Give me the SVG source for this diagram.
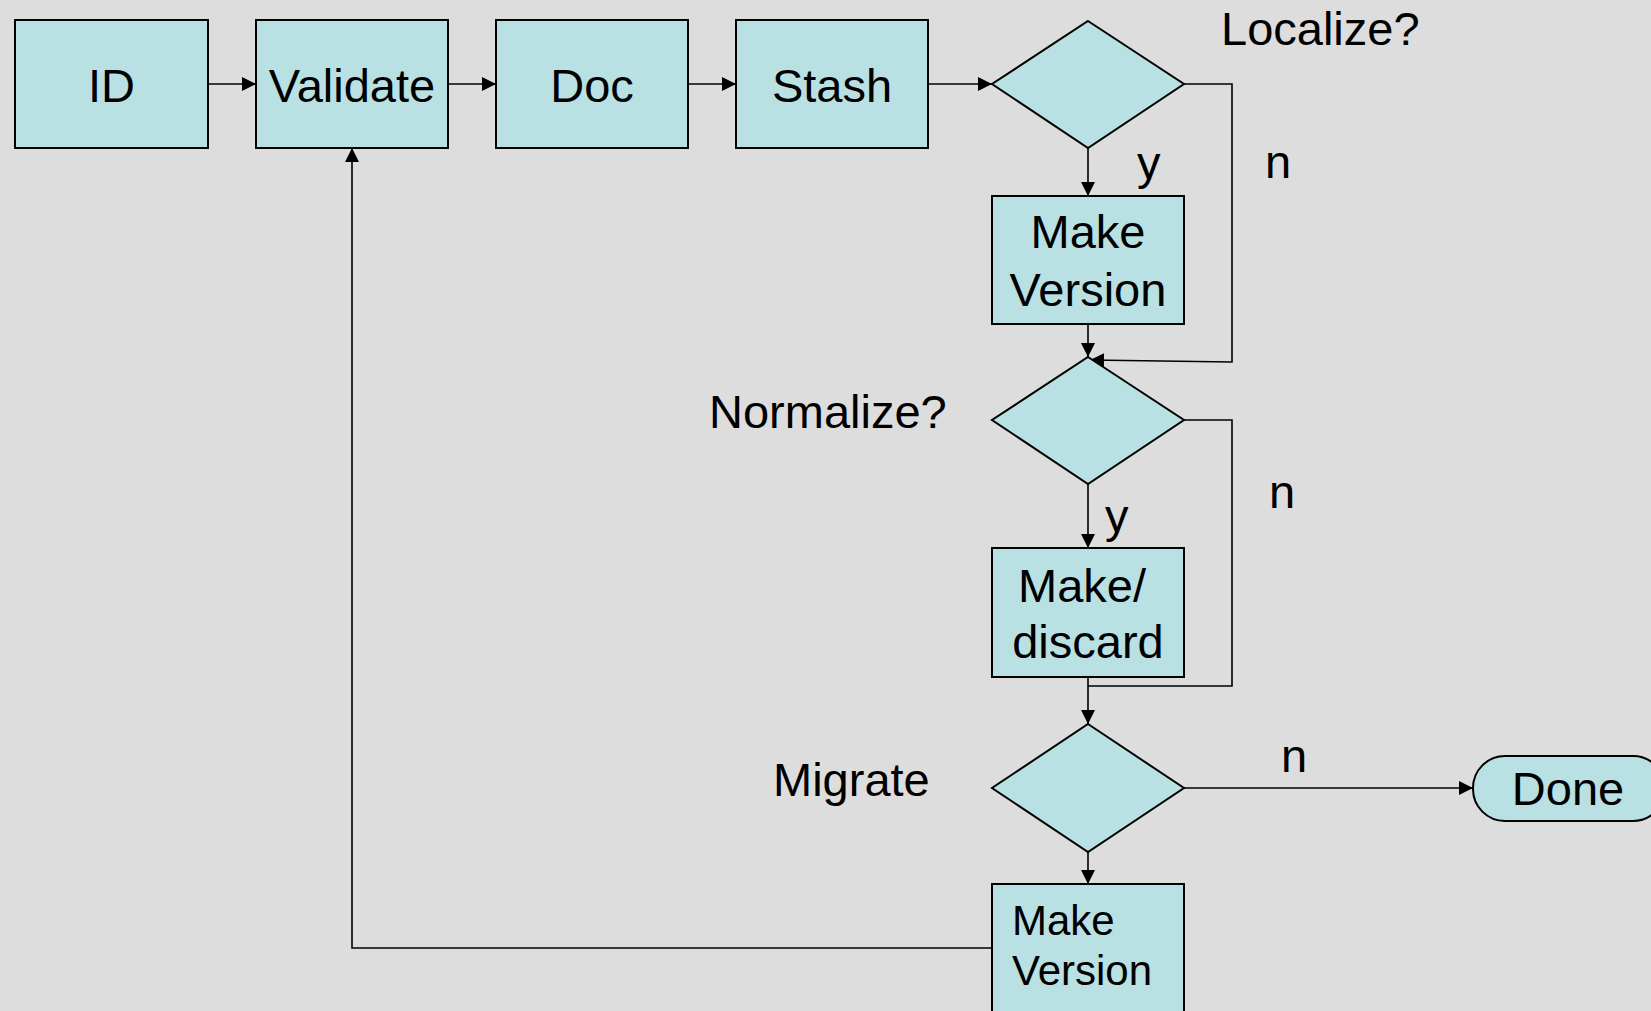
<svg xmlns="http://www.w3.org/2000/svg" width="1651" height="1011" viewBox="0 0 1651 1011">
  <style>
    .box { fill: #B9E0E3; stroke: #000; stroke-width: 2; }
    .lbl { font-family: "Liberation Sans", Arial, sans-serif; font-size: 47px; fill: #000; }
    .mid { text-anchor: middle; }
    .small { font-size: 42px; }
    .wire { fill: none; stroke: #000; stroke-width: 1.6; }
  </style>
  <defs>
    <marker id="arrow" viewBox="0 0 10 10" refX="10" refY="5" markerWidth="14" markerHeight="14" markerUnits="userSpaceOnUse" orient="auto">
      <path d="M0,0 L10,5 L0,10 Z" fill="#000"/>
    </marker>
  </defs>
  <rect width="1651" height="1011" fill="#DDDDDD"/>

  <!-- connectors -->
  <g id="connectors" class="wire">
    <line x1="208" y1="84" x2="256" y2="84" marker-end="url(#arrow)"/>
    <line x1="448" y1="84" x2="496" y2="84" marker-end="url(#arrow)"/>
    <line x1="688" y1="84" x2="736" y2="84" marker-end="url(#arrow)"/>
    <line x1="928" y1="84" x2="992" y2="84" marker-end="url(#arrow)"/>
    <line x1="1088" y1="148" x2="1088" y2="196" marker-end="url(#arrow)"/>
    <line x1="1088" y1="324" x2="1088" y2="357" marker-end="url(#arrow)"/>
    <polyline points="1184,84 1232,84 1232,362 1090,360" marker-end="url(#arrow)"/>
    <line x1="1088" y1="484" x2="1088" y2="548" marker-end="url(#arrow)"/>
    <polyline points="1184,420 1232,420 1232,686 1088,686"/>
    <line x1="1088" y1="677" x2="1088" y2="724" marker-end="url(#arrow)"/>
    <line x1="1184" y1="788" x2="1473" y2="788" marker-end="url(#arrow)"/>
    <line x1="1088" y1="852" x2="1088" y2="884" marker-end="url(#arrow)"/>
    <polyline points="992,948 352,948 352,148" marker-end="url(#arrow)"/>
  </g>

  <!-- edge labels -->
  <g id="edge-labels" class="lbl">
    <text x="1137" y="179">y</text>
    <text x="1265" y="178">n</text>
    <text x="1105" y="532">y</text>
    <text x="1269" y="508">n</text>
    <text x="1281" y="772">n</text>
  </g>

  <g id="id">
    <rect class="box" x="15" y="20" width="193" height="128"/>
    <text class="lbl mid" x="111.5" y="102">ID</text>
  </g>
  <g id="validate">
    <rect class="box" x="256" y="20" width="192" height="128"/>
    <text class="lbl mid" x="352" y="102">Validate</text>
  </g>
  <g id="doc">
    <rect class="box" x="496" y="20" width="192" height="128"/>
    <text class="lbl mid" x="592" y="102">Doc</text>
  </g>
  <g id="stash">
    <rect class="box" x="736" y="20" width="192" height="128"/>
    <text class="lbl mid" x="832" y="102">Stash</text>
  </g>
  <g id="localize">
    <polygon class="box" points="1088,21 1184,84 1088,148 992,84"/>
    <text class="lbl" x="1221" y="45">Localize?</text>
  </g>
  <g id="make-version-1">
    <rect class="box" x="992" y="196" width="192" height="128"/>
    <text class="lbl mid" x="1088" y="248">Make</text>
    <text class="lbl mid" x="1088" y="306">Version</text>
  </g>
  <g id="normalize">
    <polygon class="box" points="1088,357 1184,420 1088,484 992,420"/>
    <text class="lbl" x="709" y="428">Normalize?</text>
  </g>
  <g id="make-discard">
    <rect class="box" x="992" y="548" width="192" height="129"/>
    <text class="lbl mid" x="1082" y="602">Make/</text>
    <text class="lbl mid" x="1088" y="658">discard</text>
  </g>
  <g id="migrate">
    <polygon class="box" points="1088,724 1184,788 1088,852 992,788"/>
    <text class="lbl" x="773" y="796">Migrate</text>
  </g>
  <g id="done">
    <rect class="box" x="1473" y="756" width="192" height="65" rx="32" ry="32"/>
    <text class="lbl mid" x="1568" y="805">Done</text>
  </g>
  <g id="make-version-2">
    <rect class="box" x="992" y="884" width="192" height="150"/>
    <text class="lbl small" x="1012" y="935">Make</text>
    <text class="lbl small" x="1012" y="985">Version</text>
  </g>
</svg>
